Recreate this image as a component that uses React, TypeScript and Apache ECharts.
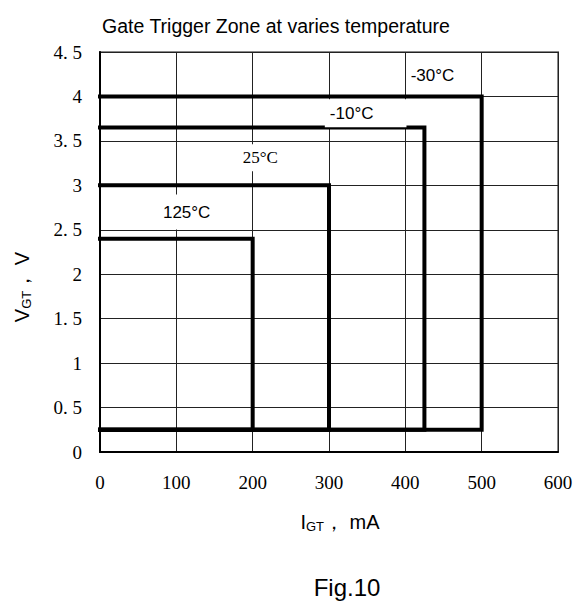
import React, { useEffect, useRef } from "react";
import * as echarts from "echarts";

const temps = ["-30°C", "-10°C", "25°C", "125°C"];
const iMax = [500, 425, 300, 200];
const vTop = [4.0, 3.65, 3.0, 2.4];
const vBottom = 0.25;
const labelX = [450, 348, 210, 124];
const labelY = [4.24, 3.81, 3.31, 2.7];
const xTicks = [0, 100, 200, 300, 400, 500, 600];
const yTicks = [0, 0.5, 1, 1.5, 2, 2.5, 3, 3.5, 4, 4.5];

const sans = "Liberation Sans, Arial, sans-serif";
const serif = "Liberation Serif, DejaVu Serif, serif";

const labelPads = [
  [6, 26, 6, 4],
  [2, 33, 9, 5],
  [5, 6, 5, 6],
  [9, 24, 9, 8],
];

const nameRich = {
  a: { fontFamily: sans, fontSize: 20, color: "#000", lineHeight: 24 },
  b: { fontFamily: sans, fontSize: 13, color: "#000", lineHeight: 24, padding: [9, 0, 0, 0] },
};

export default function App() {
  const ref = useRef<HTMLDivElement>(null);
  useEffect(() => {
    if (!ref.current) return;
    const chart = echarts.init(ref.current, null, { renderer: "svg" });
    const boxSeries = temps.map((t, i) => ({
      type: "line",
      name: t,
      data: [
        [0, vTop[i]],
        [iMax[i], vTop[i]],
        [iMax[i], vBottom],
        [0, vBottom],
      ],
      symbol: "none",
      lineStyle: { color: "#000", width: 4, join: "miter", cap: "square" },
      z: 3,
      silent: true,
    }));
    const labelSeries = {
      type: "scatter",
      symbolSize: 0,
      z: 10,
      silent: true,
      itemStyle: { opacity: 1 },
      data: temps.map((t, i) => ({
        value: [labelX[i], labelY[i]],
        label: {
          show: true,
          position: "inside",
          formatter: t,
          color: "#000",
          opacity: 1,
          fontSize: 17,
          fontFamily: i === 2 ? serif : sans,
          backgroundColor: "#fff",
          padding: labelPads[i],
        },
      })),
    };
    chart.setOption({
      animation: false,
      backgroundColor: "#fff",
      title: [
        {
          text: "Gate Trigger Zone at varies temperature",
          left: 271,
          top: 11,
          textAlign: "center",
          textStyle: { fontFamily: sans, fontSize: 19.5, fontWeight: "normal", color: "#000" },
        },
        {
          text: "Fig.10",
          left: 342,
          top: 570,
          textAlign: "center",
          textStyle: { fontFamily: sans, fontSize: 24, fontWeight: "normal", color: "#000" },
        },
      ],
      grid: {
        left: 100,
        right: 24,
        top: 52,
        bottom: 150,
        show: true,
        borderColor: "#888",
        borderWidth: 2,
      },
      xAxis: {
        type: "value",
        min: xTicks[0],
        max: xTicks[xTicks.length - 1],
        interval: 100,
        name: "{a|I}{b|GT}{a|， mA}",
        nameLocation: "middle",
        nameGap: 58,
        nameTextStyle: {
          padding: [0, 0, 0, 22],
          rich: nameRich,
        },
        axisLine: { show: true, lineStyle: { color: "#000", width: 2 } },
        axisTick: { show: false },
        axisLabel: { fontFamily: serif, fontSize: 19, color: "#000", margin: 21 },
        splitLine: { show: true, lineStyle: { color: "#222", width: 1 } },
      },
      yAxis: {
        type: "value",
        min: yTicks[0],
        max: yTicks[yTicks.length - 1],
        interval: 0.5,
        name: "{a|V}{b|GT}{a|， V}",
        nameLocation: "middle",
        nameRotate: 90,
        nameGap: 66,
        nameTextStyle: {
          padding: [0, 70, 0, 0],
          rich: nameRich,
        },
        axisLine: { show: true, lineStyle: { color: "#000", width: 2 } },
        axisTick: { show: false },
        axisLabel: {
          fontFamily: serif,
          fontSize: 19,
          color: "#000",
          margin: 18,
          formatter: (v: number) => String(v).replace(".", ". "),
        },
        splitLine: { show: true, lineStyle: { color: "#222", width: 1 } },
      },
      series: [...boxSeries, labelSeries],
    });
    return () => chart.dispose();
  }, []);
  return (
    <div
      ref={ref}
      style={{ position: "fixed", left: 0, top: 0, width: 582, height: 602 }}
    />
  );
}
